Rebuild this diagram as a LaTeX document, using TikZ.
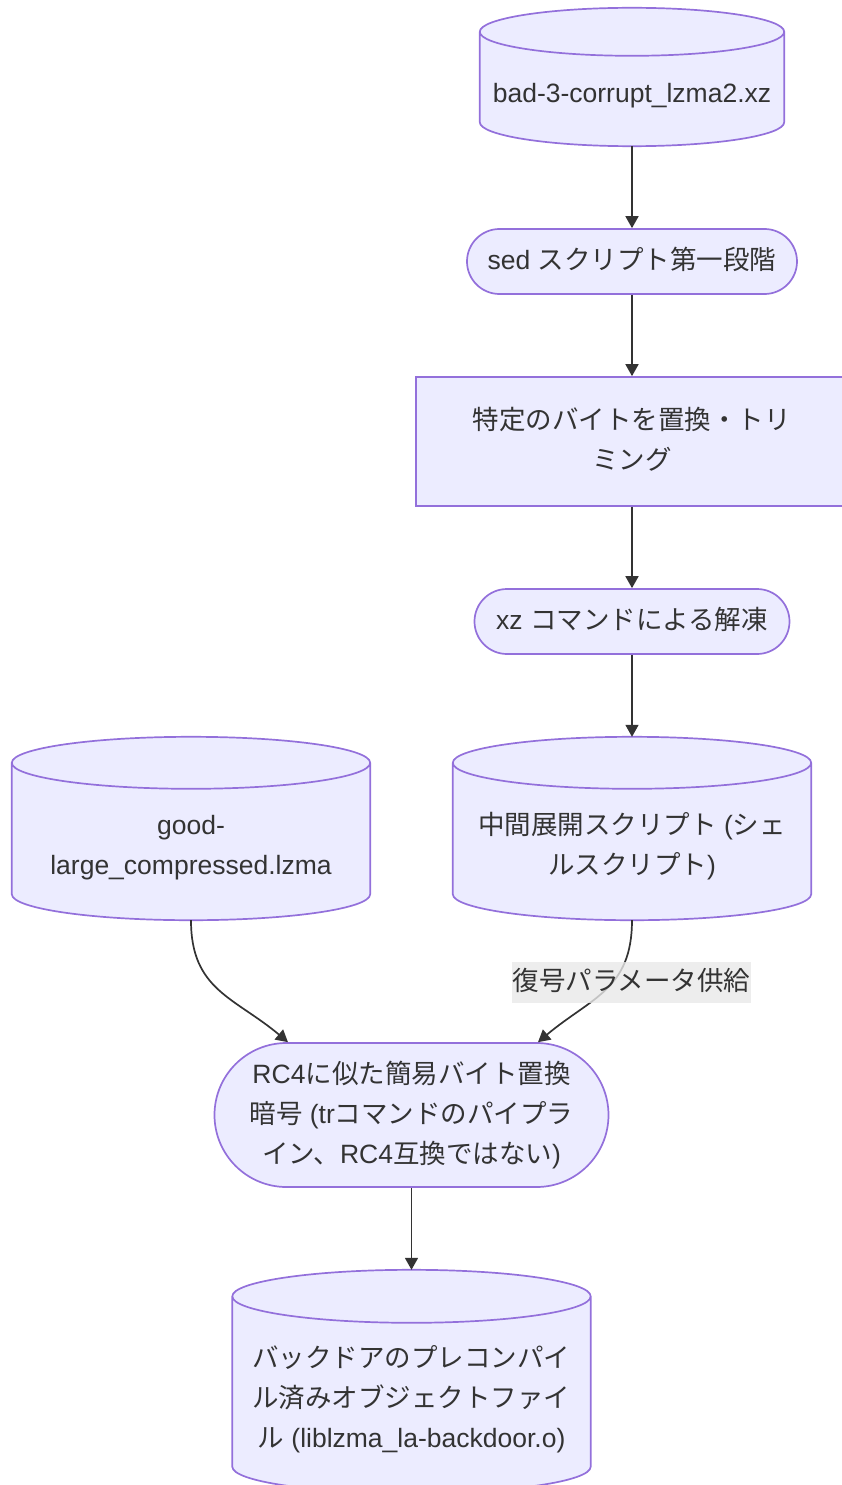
\documentclass[tikz,border=0pt]{standalone}
\usepackage{fontspec}
\setmainfont{Liberation Sans}
\newfontfamily\jpfont{Noto Sans CJK JP}
\usetikzlibrary{arrows.meta,positioning,calc,backgrounds}
\definecolor{boxfill}{HTML}{ECECFF}
\definecolor{boxline}{HTML}{9370DB}
\definecolor{inktext}{HTML}{333333}
\definecolor{lblfill}{HTML}{E8E8E8}
\newcommand{\jp}[1]{{\jpfont #1}}
\newcommand{\ml}[1]{\begin{tabular}{@{}c@{}}#1\end{tabular}}
\newcommand{\canlbl}[1]{\raisebox{-17.5pt}[\height][\depth]{\ml{#1}}}
% cylinder round a named node: #1 node, #2 y radius of the ends
\newcommand{\drawcan}[2]{%
  \path[canbody] let \p1=(#1.north west), \p2=(#1.south east), \n1={(\x2-\x1)/2} in
    (\x1,\y1-#2) -- (\x1,\y2+#2)
    arc[start angle=180, end angle=360, x radius=\n1, y radius=#2]
    -- (\x2,\y1-#2)
    arc[start angle=0, end angle=180, x radius=\n1, y radius=#2] -- cycle
    (\x1,\y1-#2) arc[start angle=180, end angle=360, x radius=\n1, y radius=#2];
}
\begin{document}
\begin{tikzpicture}[>={Triangle[length=12pt,width=13pt]},node distance=180pt,on grid,
  font=\fontsize{26.5pt}{40pt}\selectfont,text=inktext]
  \useasboundingbox (-632pt,77pt) rectangle (210pt,-1408pt);
  \tikzset{box/.style={draw=boxline,fill=boxfill,line width=1.7pt,inner sep=0pt}}
  \tikzset{pill/.style={box,rounded corners=#1}}
  \tikzset{can/.style={inner sep=0pt}}
  \tikzset{canbody/.style={draw=boxline,fill=boxfill,line width=1.7pt}}
  \tikzset{flow/.style={->,draw=inktext,line width=1.7pt}}
  \tikzset{elabel/.style={fill=lblfill,fill opacity=0.8,text opacity=1,inner sep=0.8pt}}

  \node[can,minimum width=304pt,minimum height=138pt] (n1) at (0,0) {\canlbl{bad-3-corrupt\_lzma2.xz}};
  \node[pill=32.5pt,minimum width=330pt,minimum height=65pt] (n2) [below=184.5pt of n1] {\ml{sed \jp{スクリプト第一段階}}};
  \node[box,minimum width=432pt,minimum height=129pt] (n3) [below=of n2] {\ml{\jp{特定のバイトを置換・トリ}\\\jp{ミング}}};
  \node[pill=32.5pt,minimum width=315pt,minimum height=65pt] (n4) [below=of n3] {\ml{xz \jp{コマンドによる解凍}}};
  \node[can,minimum width=358pt,minimum height=183pt] (n5) [below=207pt of n4] {\canlbl{\jp{中間展開スクリプト} (\jp{シェ}\\\jp{ルスクリプト})}};
  \node[can,minimum width=358pt,minimum height=183pt] (n6) [left=441pt of n5] {\canlbl{good-\\large\_compressed.lzma}};
  \node[pill=72pt,minimum width=394pt,minimum height=144pt] (n7) [below left=286.5pt and 220.5pt of n5] {\ml{RC4\jp{に似た簡易バイト置換}\\\jp{暗号} (tr\jp{コマンドのパイプラ}\\\jp{イン、}RC4\jp{互換ではない})}};
  \node[can,minimum width=358pt,minimum height=223pt] (n8) [below=266.5pt of n7] {\canlbl{\jp{バックドアのプレコンパイ}\\\jp{ル済みオブジェクトファイ}\\\jp{ル} (liblzma\_la-backdoor.o)}};

  \coordinate (in7a) at ([xshift=-123.5pt]n7.north);
  \coordinate (in7b) at ([xshift=126.5pt]n7.north);

  \begin{scope}[on background layer]
    \drawcan{n1}{24pt}
    \drawcan{n5}{26pt}
    \drawcan{n6}{26pt}
    \drawcan{n8}{26.5pt}
  \end{scope}

  \path (n1) edge[flow] (n2)
        (n2) edge[flow] (n3)
        (n3) edge[flow] (n4)
        (n4) edge[flow] (n5)
        (n6) edge[flow,out=-90,in=140,looseness=1.15] (in7a)
        (n5) edge[flow,out=-90,in=40,looseness=1.15] node[elabel,pos=0.42,xshift=19pt] {\ml{\jp{復号パラメータ供給}}} (in7b)
        (n7) edge[flow] (n8);
\end{tikzpicture}
\end{document}
